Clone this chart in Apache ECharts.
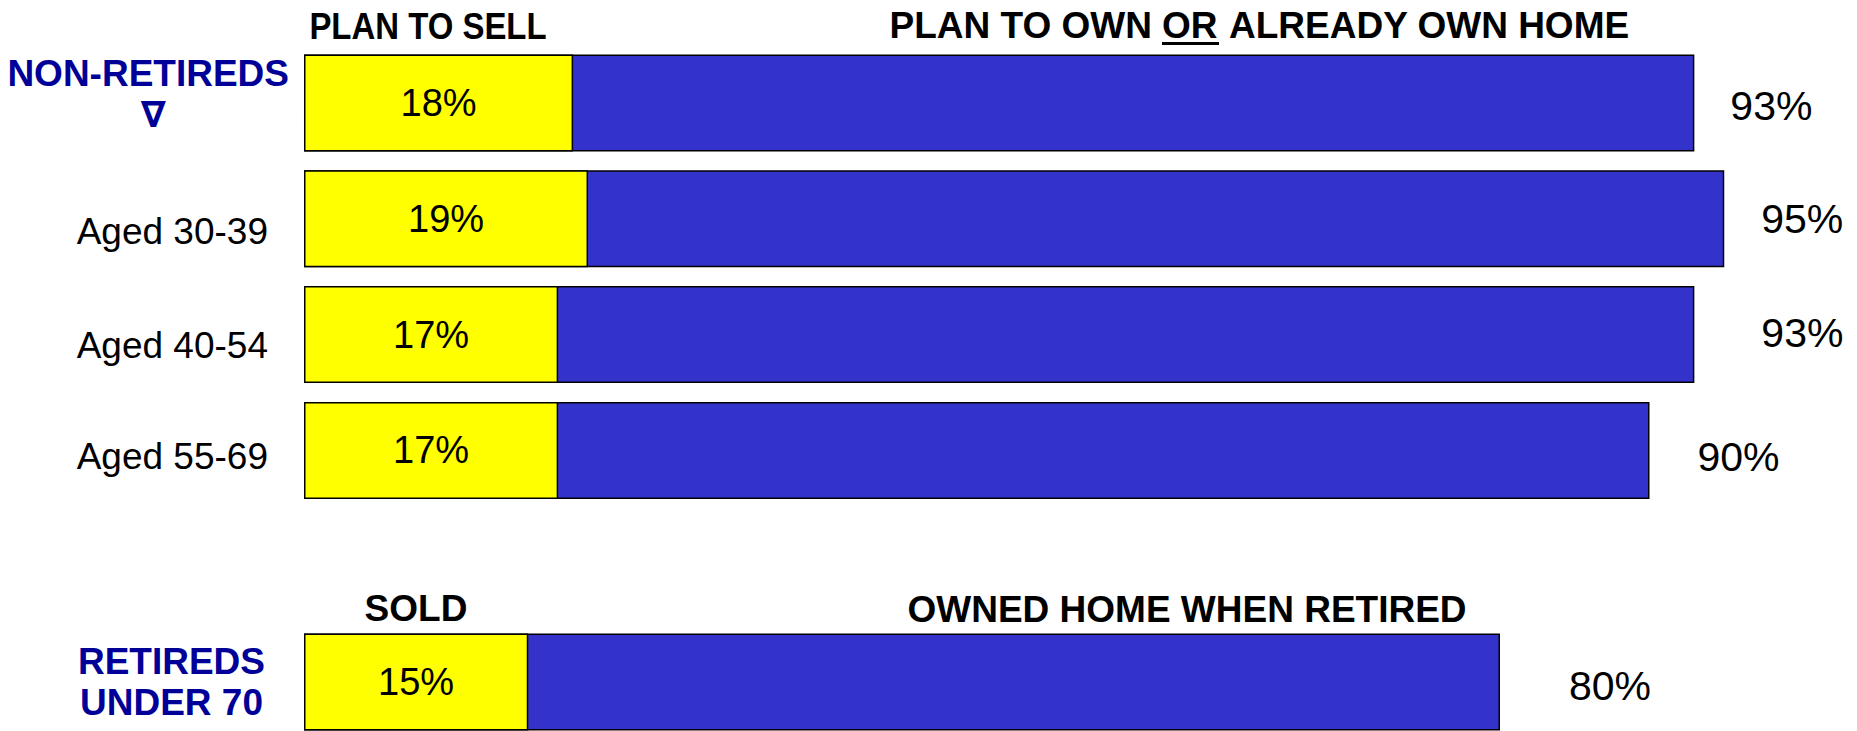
<!DOCTYPE html>
<html>
<head>
<meta charset="utf-8">
<style>
  html, body { margin: 0; padding: 0; background: #ffffff; }
  #chart { width: 1857px; height: 731px; }
</style>
<script src="https://cdn.jsdelivr.net/npm/echarts@6/dist/echarts.min.js"></script>
</head>
<body>
<div id="chart"></div>
<script>
// ---------------- data ----------------
const categories = ['NON-RETIREDS\n∇', 'Aged 30-39', 'Aged 40-54', 'Aged 55-69', '', 'RETIREDS\nUNDER 70'];
const groupRows = [0, 5];
const sellValues = [18, 19, 17, 17, null, 15];
const ownValues = [93, 95, 93, 90, null, 80];
const sellHeaders = ['PLAN TO SELL', 'SOLD'];
const ownHeaderParts = ['PLAN TO OWN', 'OR', 'ALREADY OWN HOME'];
const ownHeaderRetired = 'OWNED HOME WHEN RETIRED';

// ---------------- styling / layout ----------------
const FONT = "'Liberation Sans', Arial, Helvetica, sans-serif";
const YELLOW = '#FFFF00';
const BLUE = '#3333CC';
const NAVY = '#000099';
const rowLabelPad = [[0, 0, 19, 0], [26, 21, 0, 0], [22, 21, 0, 0], [12, 21, 0, 0], [0, 0, 0, 0], [0, 24, 0, 0]];
const ownLabelShift = [[0, 3], [1, 0], [31, -2], [12, 7], [0, 0], [33, 4]];

const yData = categories.map((c, i) => ({
  value: c,
  textStyle: { padding: rowLabelPad[i] }
}));

const ownData = ownValues.map((v, i) => v == null ? '-' : {
  value: v,
  label: { offset: ownLabelShift[i] }
});
const sellData = sellValues.map(v => v == null ? '-' : v);

const chart = echarts.init(document.getElementById('chart'), null, { renderer: 'svg' });

const headerStyle = { fontFamily: FONT, fontSize: 37, fontWeight: 'bold', fill: '#000', verticalAlign: 'middle' };

const option = {
  animation: false,
  backgroundColor: '#ffffff',
  grid: { left: 304, top: 103, width: 1495, height: 579 },
  xAxis: {
    type: 'value', min: 0, max: 100, show: false,
    splitLine: { show: false }
  },
  yAxis: {
    type: 'category',
    inverse: true,
    boundaryGap: false,
    data: yData,
    axisLine: { show: false },
    axisTick: { show: false },
    splitLine: { show: false },
    axisLabel: {
      margin: 15,
      fontFamily: FONT,
      fontSize: 37,
      color: '#000',
      formatter: function (value, index) {
        if (!value) return '';
        if (groupRows.indexOf(index) >= 0) {
          return value.split('\n').map(l => l === '∇' ? '{sym|' + l + '}' : '{grp|' + l + '}').join('\n');
        }
        return '{age|' + value + '}';
      },
      rich: {
        grp: { fontFamily: FONT, fontSize: 37, fontWeight: 'bold', color: NAVY, lineHeight: 41, align: 'center' },
        sym: { fontFamily: "'DejaVu Sans', " + FONT, fontSize: 36, fontWeight: 'bold', color: NAVY, lineHeight: 41, align: 'center', padding: [0, 0, 0, 10] },
        age: { fontFamily: FONT, fontSize: 37, color: '#000', lineHeight: 42 }
      }
    }
  },
  series: [
    {
      name: 'own',
      type: 'bar',
      data: ownData,
      barWidth: 97,
      barGap: '-100%',
      clip: false,
      itemStyle: { color: BLUE, borderColor: '#000', borderWidth: 1.5 },
      label: {
        show: true, position: 'right', distance: 36,
        formatter: '{c}%', fontFamily: FONT, fontSize: 41, color: '#000'
      },
      z: 2
    },
    {
      name: 'sell',
      type: 'bar',
      data: sellData,
      barWidth: 97,
      barGap: '-100%',
      clip: false,
      itemStyle: { color: YELLOW, borderColor: '#000', borderWidth: 1.5 },
      label: {
        show: true, position: 'inside',
        formatter: '{c}%', fontFamily: FONT, fontSize: 38, color: '#000'
      },
      z: 3
    }
  ],
  graphic: [
    { type: 'text', x: 428, y: 25.5, scaleX: 0.89, style: Object.assign({ text: sellHeaders[0], align: 'center' }, headerStyle) },
    { type: 'text', x: 1152, y: 25, style: Object.assign({ text: ownHeaderParts[0], align: 'right' }, headerStyle) },
    { type: 'text', x: 1162, y: 25, style: Object.assign({ text: ownHeaderParts[1], align: 'left' }, headerStyle) },
    { type: 'line', shape: { x1: 1162, y1: 43.5, x2: 1219, y2: 43.5 }, style: { stroke: '#000', lineWidth: 3 } },
    { type: 'text', x: 1229, y: 25, style: Object.assign({ text: ownHeaderParts[2], align: 'left' }, headerStyle) },
    { type: 'text', x: 416, y: 608.5, style: Object.assign({ text: sellHeaders[1], align: 'center' }, headerStyle) },
    { type: 'text', x: 1187, y: 609.5, style: Object.assign({ text: ownHeaderRetired, align: 'center' }, headerStyle) }
  ]
};

chart.setOption(option);
</script>
</body>
</html>
